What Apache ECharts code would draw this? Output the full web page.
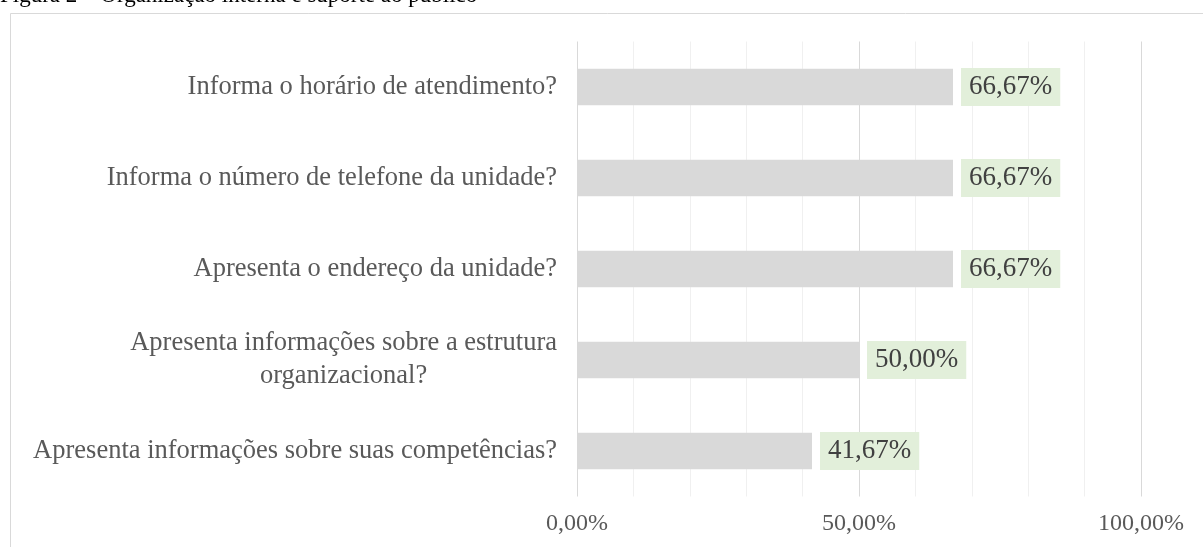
<!DOCTYPE html>
<html>
<head>
<meta charset="utf-8">
<script src="https://cdn.jsdelivr.net/npm/echarts@6/dist/echarts.min.js"></script>
<style>
  html, body { margin: 0; padding: 0; background: #fff; }
  #main { width: 1203px; height: 547px; }
</style>
</head>
<body>
<div id="main"></div>
<script>
// categorias de cima para baixo
var categorias = [
  'Informa o horário de atendimento?',
  'Informa o número de telefone da unidade?',
  'Apresenta o endereço da unidade?',
  'Apresenta informações sobre a estrutura\norganizacional?',
  'Apresenta informações sobre suas competências?'
];
var valores = [66.67, 66.67, 66.67, 50.00, 41.67];
var ticksMostrados = [0, 50, 100];
var titulo = 'Figura 2 – Organização interna e suporte ao público';

var fonte = '"Liberation Serif", "Times New Roman", serif';
var chart = echarts.init(document.getElementById('main'));

function pct(v) {
  return v.toFixed(2).replace('.', ',') + '%';
}

// linhas de grade: 0, 50 e 100 mais escuras
var coresGrade = [];
for (var i = 0; i < 10; i++) coresGrade.push(i % 5 === 0 ? '#d9d9d9' : '#f0f0f0');

var option = {
  backgroundColor: '#fff',
  animation: false,
  graphic: [
    {
      // titulo cortado no topo da imagem
      type: 'text', x: 0, y: 7,
      style: { text: titulo, font: '23px ' + fonte, fill: '#000', verticalAlign: 'bottom' }
    },
    {
      type: 'rect', shape: { x: 10.5, y: 13.5, width: 1300, height: 600 },
      style: { fill: 'none', stroke: '#d9d9d9', lineWidth: 1 }
    }
  ],
  grid: { left: 577, right: 62, top: 41.5, bottom: 50.5 },
  xAxis: {
    type: 'value', min: 0, max: 100, interval: 10,
    axisLine: { show: false },
    axisTick: { show: false },
    axisLabel: {
      margin: 15,
      fontFamily: fonte, fontSize: 24, color: '#595959',
      formatter: function (v) { return ticksMostrados.indexOf(v) >= 0 ? pct(v) : ''; }
    },
    splitLine: { lineStyle: { color: coresGrade, width: 1 } }
  },
  yAxis: {
    type: 'category', inverse: true, data: categorias,
    axisLine: { show: false },
    axisTick: { show: false },
    axisLabel: {
      margin: 20,
      fontFamily: fonte, fontSize: 26.5, color: '#595959', lineHeight: 33,
      formatter: function (v) {
        if (v.indexOf('\n') < 0) return v;
        return v.split('\n').map(function (l) { return '{c|' + l + '}'; }).join('\n');
      },
      rich: {
        c: { align: 'center', fontFamily: fonte, fontSize: 26.5, color: '#595959', lineHeight: 33 }
      }
    }
  },
  series: [{
    type: 'bar',
    data: valores,
    barCategoryGap: '60%',
    itemStyle: { color: '#d9d9d9' },
    label: {
      show: true, position: 'right', distance: 8,
      fontFamily: fonte, fontSize: 27, color: '#404040',
      backgroundColor: '#e2efda', padding: [5, 8], lineHeight: 28,
      formatter: function (p) { return pct(p.value); }
    }
  }]
};
chart.setOption(option);
</script>
</body>
</html>
